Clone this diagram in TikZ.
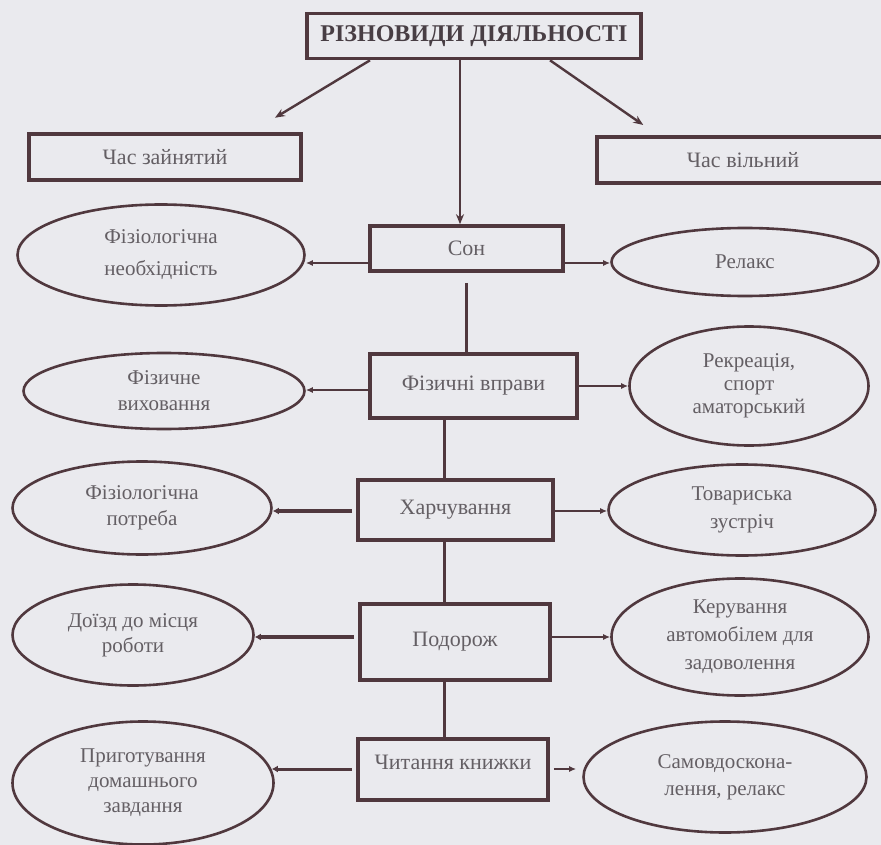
\documentclass[tikz,border=0pt]{standalone}
\usepackage{fontspec}
\setmainfont{Liberation Serif}
\usetikzlibrary{shapes.geometric,arrows.meta}
\definecolor{lc}{RGB}{80,56,62}
\definecolor{tx}{RGB}{100,95,100}
\definecolor{ttl}{RGB}{72,62,68}
\definecolor{bg}{RGB}{234,234,238}
\begin{document}
\begin{tikzpicture}[x=1pt,y=-1pt,
  box/.style={draw=lc, line width=3.6pt, rectangle, inner sep=0pt, text=tx, font=\fontsize{22}{26}\selectfont},
  oval/.style={draw=lc, line width=2.6pt, ellipse, inner sep=0pt, text=tx, align=center},
  arr/.style={draw=lc, line width=2.2pt, -{Latex[length=7pt,width=6pt]}},
  tarr/.style={draw=lc, line width=2.4pt, -{Stealth[length=10pt,width=8pt]}},
  thk/.style={draw=lc, line width=3.6pt, -{Latex[length=6pt,width=7pt]}},
  vline/.style={draw=lc, line width=3pt}
]
\fill[bg] (0,0) rectangle (881,845);
\useasboundingbox (0,0) rectangle (881,845);

% boxes
\node[box, minimum width=334pt, minimum height=45pt, text=ttl, font=\bfseries\fontsize{24}{28}\selectfont] (title) at (474,36) {РІЗНОВИДИ ДІЯЛЬНОСТІ};
\node[box, minimum width=272pt, minimum height=46pt] (zay) at (165,157) {Час зайнятий};
\node[box, minimum width=292pt, minimum height=46pt] (vil) at (743,160) {Час вільний};
\node[box, minimum width=193pt, minimum height=45pt] (son) at (466.5,248.5) {Сон};
\node[box, minimum width=207pt, minimum height=64pt] (fiz) at (473.5,386) {Фізичні вправи};
\node[box, minimum width=195pt, minimum height=60pt] (harch) at (455.5,510) {Харчування};
\node[box, minimum width=190pt, minimum height=76pt] (podor) at (455,642) {Подорож};
\node[box, minimum width=190pt, minimum height=61pt, text depth=14pt] (chyt) at (453,769.5) {Читання книжки};

% ellipses
\node[oval, minimum width=287pt, minimum height=101pt, font=\fontsize{21}{32}\selectfont] (e1) at (161,255) {Фізіологічна\\необхідність};
\node[oval, minimum width=267pt, minimum height=68pt, font=\fontsize{21}{26}\selectfont] (e2) at (745,262) {Релакс};
\node[oval, minimum width=281pt, minimum height=76pt, font=\fontsize{21}{26}\selectfont] (e3) at (164,391) {Фізичне\\виховання};
\node[oval, minimum width=239pt, minimum height=119pt, font=\fontsize{21}{23}\selectfont] (e4) at (749,386) {Рекреація,\\спорт\\аматорський};
\node[oval, minimum width=259pt, minimum height=93pt, font=\fontsize{21}{26}\selectfont] (e5) at (142,508) {Фізіологічна\\потреба};
\node[oval, minimum width=267pt, minimum height=91pt, font=\fontsize{21}{28}\selectfont] (e6) at (742,510) {Товариська\\зустріч};
\node[oval, minimum width=241pt, minimum height=101pt, font=\fontsize{21}{25}\selectfont] (e7) at (133,635) {Доїзд до місця\\роботи};
\node[oval, minimum width=257pt, minimum height=117pt, font=\fontsize{21}{28}\selectfont] (e8) at (740,637) {Керування\\автомобілем для\\задоволення};
\node[oval, minimum width=261pt, minimum height=123pt, font=\fontsize{21}{25}\selectfont] (e9) at (143,783) {Приготування\\домашнього\\завдання};
\node[oval, minimum width=283pt, minimum height=111pt, font=\fontsize{21}{27}\selectfont] (e10) at (725,777) {Самовдоскона-\\лення, релакс};

% top connectors
\draw[tarr, shorten >=28pt] (title.south -| 370,0) -- (zay.north -| 251,0);
\draw[tarr, shorten >=18pt] (title.south -| 550,0) -- (vil.north -| 658,0);
\draw[tarr] (title.south -| 460,0) -- (son.north -| 460,0);

% vertical chain
\draw[vline, shorten <=10pt] (son.south -| 466,0) -- (fiz.north -| 466,0);
\draw[vline] (fiz.south -| 444,0) -- (harch.north -| 444,0);
\draw[vline] (harch.south -| 444,0) -- (podor.north -| 444,0);
\draw[vline] (podor.south -| 444,0) -- (chyt.north -| 444,0);

% left connectors
\draw[arr] (son.west |- 0,263) -- (e1.east |- 0,263);
\draw[arr] (fiz.west |- 0,390) -- (e3.east |- 0,390);
\draw[thk, shorten <=4pt] (harch.west |- 0,511) -- (e5.east |- 0,511);
\draw[thk, shorten <=4pt] (podor.west |- 0,637) -- (e7.east |- 0,637);
\draw[thk, line width=3pt, shorten <=4pt] (chyt.west |- 0,769) -- ([xshift=-3pt]e9.east |- 0,769);

% right connectors
\draw[arr] (son.east |- 0,263) -- (e2.west |- 0,263);
\draw[arr] (fiz.east |- 0,386) -- (e4.west |- 0,386);
\draw[arr] (harch.east |- 0,511) -- (e6.west |- 0,511);
\draw[arr] (podor.east |- 0,637) -- (e8.west |- 0,637);
\draw[arr, shorten <=4pt, shorten >=6pt] (chyt.east |- 0,769) -- (e10.west |- 0,769);
\end{tikzpicture}
\end{document}
